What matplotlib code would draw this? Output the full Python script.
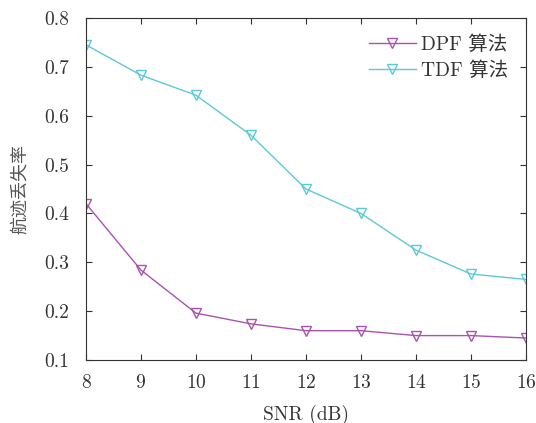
import numpy as np
import matplotlib.pyplot as plt

plt.rcParams['font.family'] = ['cmr10', 'Noto Sans CJK SC']
plt.rcParams['axes.formatter.use_mathtext'] = True

snr = [8, 9, 10, 11, 12, 13, 14, 15, 16]
dpf = [0.42, 0.284, 0.196, 0.174, 0.16, 0.16, 0.15, 0.15, 0.145]
tdf = [0.745, 0.683, 0.642, 0.56, 0.45, 0.40, 0.325, 0.276, 0.265]

fig = plt.figure(figsize=(5.36, 4.23), dpi=100)
ax = fig.add_axes([0.1604, 0.1489, 0.8209, 0.8085])

ax.plot(snr, dpf, color='#a952b0', lw=1, marker='v', ms=7, mfc='none',
        mew=1, label='DPF 算法')
ax.plot(snr, tdf, color='#5ec9d6', lw=1, marker='v', ms=7, mfc='none',
        mew=1, label='TDF 算法')

ax.set_xlim(8, 16)
ax.set_ylim(0.1, 0.8)
ax.set_xticks(snr)
ax.set_yticks(np.arange(0.1, 0.81, 0.1))
ax.set_yticklabels(['0.1', '0.2', '0.3', '0.4', '0.5', '0.6', '0.7', '0.8'])
ax.tick_params(direction='in', top=True, right=True, labelsize=14,
               length=4, color='#333333', labelcolor='#333333')
ax.tick_params(axis='y', pad=12)
ax.tick_params(axis='x', pad=10)
for s in ax.spines.values():
    s.set_color('#333333')
ax.set_xlabel('SNR (dB)', fontsize=14, labelpad=9, color='#333333')
ax.set_ylabel('航迹丢失率', fontsize=13, labelpad=12, color='#555555')
ax.legend(loc='upper right', frameon=False, fontsize=14, handlelength=2.4,
          borderaxespad=0.5, labelspacing=0.35, handletextpad=0.3,
          labelcolor='#333333')

fig.savefig('out.png', dpi=100)
